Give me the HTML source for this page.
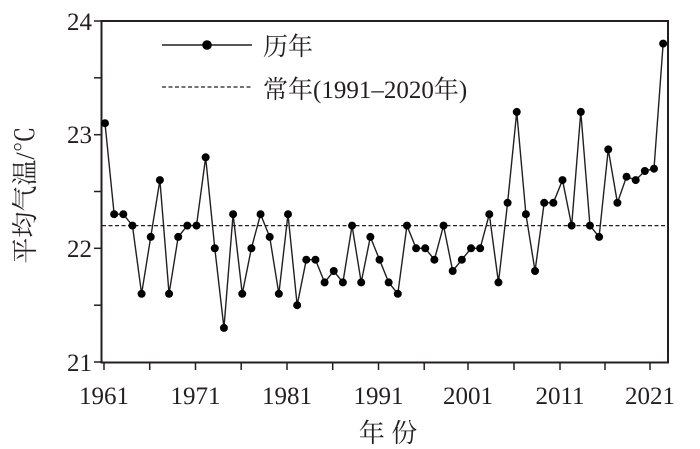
<!DOCTYPE html><html><head><style>body{margin:0;background:#fff}svg{display:block}text{font-family:"Liberation Serif","Noto Serif CJK SC",serif;fill:#231f20}</style></head><body>
<svg width="700" height="449" viewBox="0 0 700 449" xmlns="http://www.w3.org/2000/svg">
<defs><marker id="m" viewBox="-6 -6 12 12" markerWidth="10" markerHeight="10" markerUnits="userSpaceOnUse"><circle r="4.8" fill="#000"/></marker></defs>
<rect x="101.5" y="21" width="566.5" height="341.5" fill="none" stroke="#231f20" stroke-width="2"/>
<g stroke="#231f20" stroke-width="1.5">
<line x1="94" y1="21" x2="101" y2="21"/><line x1="94" y1="77.8" x2="101" y2="77.8"/><line x1="94" y1="134.7" x2="101" y2="134.7"/><line x1="94" y1="191.5" x2="101" y2="191.5"/><line x1="94" y1="248.3" x2="101" y2="248.3"/><line x1="94" y1="305.2" x2="101" y2="305.2"/><line x1="94" y1="362" x2="101" y2="362"/>
<line x1="104" y1="363" x2="104" y2="370"/><line x1="149.7" y1="363" x2="149.7" y2="370"/><line x1="195.5" y1="363" x2="195.5" y2="370"/><line x1="241.2" y1="363" x2="241.2" y2="370"/><line x1="287" y1="363" x2="287" y2="370"/><line x1="332.7" y1="363" x2="332.7" y2="370"/><line x1="378.5" y1="363" x2="378.5" y2="370"/><line x1="424.2" y1="363" x2="424.2" y2="370"/><line x1="468" y1="363" x2="468" y2="370"/><line x1="514" y1="363" x2="514" y2="370"/><line x1="560" y1="363" x2="560" y2="370"/><line x1="605" y1="363" x2="605" y2="370"/><line x1="650" y1="363" x2="650" y2="370"/>
</g>
<g font-size="25" text-anchor="end"><text x="92" y="30">24</text><text x="92" y="143">23</text><text x="92" y="257">22</text><text x="92" y="371">21</text></g>
<g font-size="25" text-anchor="middle"><text x="104" y="404">1961</text><text x="195.5" y="404">1971</text><text x="287" y="404">1981</text><text x="378.5" y="404">1991</text><text x="468" y="404">2001</text><text x="560" y="404">2011</text><text x="650" y="404">2021</text></g>
<text x="388" y="442" font-size="26" text-anchor="middle">年 份</text>
<text transform="translate(34,195) rotate(-90)" font-size="26" text-anchor="middle">平均气温/℃</text>
<line x1="102" y1="225.6" x2="667" y2="225.6" stroke="#231f20" stroke-width="1.3" stroke-dasharray="4,2.5"/>
<line x1="162" y1="45" x2="252" y2="45" stroke="#231f20" stroke-width="1.5"/><circle cx="207" cy="45" r="4.8" fill="#000"/>
<line x1="162" y1="87" x2="252" y2="87" stroke="#231f20" stroke-width="1.3" stroke-dasharray="4,2.5"/>
<text x="263" y="55" font-size="25">历年</text>
<text x="263" y="98" font-size="25">常年(1991–2020年)</text>
<polyline fill="none" stroke="#231f20" stroke-width="1.4" marker-start="url(#m)" marker-mid="url(#m)" marker-end="url(#m)" points="105,123.2 114.15,214.2 123.3,214.2 132.45,225.6 141.6,293.8 150.75,236.9 159.9,180.1 169.05,293.8 178.2,236.9 187.35,225.6 196.5,225.6 205.65,157.3 214.8,248.3 223.95,327.9 233.1,214.2 242.25,293.8 251.4,248.3 260.55,214.2 269.7,236.9 278.85,293.8 288,214.2 297.15,305.2 306.3,259.7 315.45,259.7 324.6,282.4 333.75,271 342.9,282.4 352.05,225.6 361.2,282.4 370.35,236.9 379.5,259.7 388.65,282.4 397.8,293.8 406.95,225.6 416.1,248.3 425.25,248.3 434.4,259.7 443.55,225.6 452.7,271 461.85,259.7 471,248.3 480.15,248.3 489.3,214.2 498.45,282.4 507.6,202.8 516.75,111.9 525.9,214.2 535.05,271 544.2,202.8 553.35,202.8 562.5,180.1 571.65,225.6 580.8,111.9 589.95,225.6 599.1,236.9 608.25,149.4 617.4,202.8 626.55,176.7 635.7,180.1 644.85,171 654,168.7 663.15,43.6"/>
</svg></body></html>
